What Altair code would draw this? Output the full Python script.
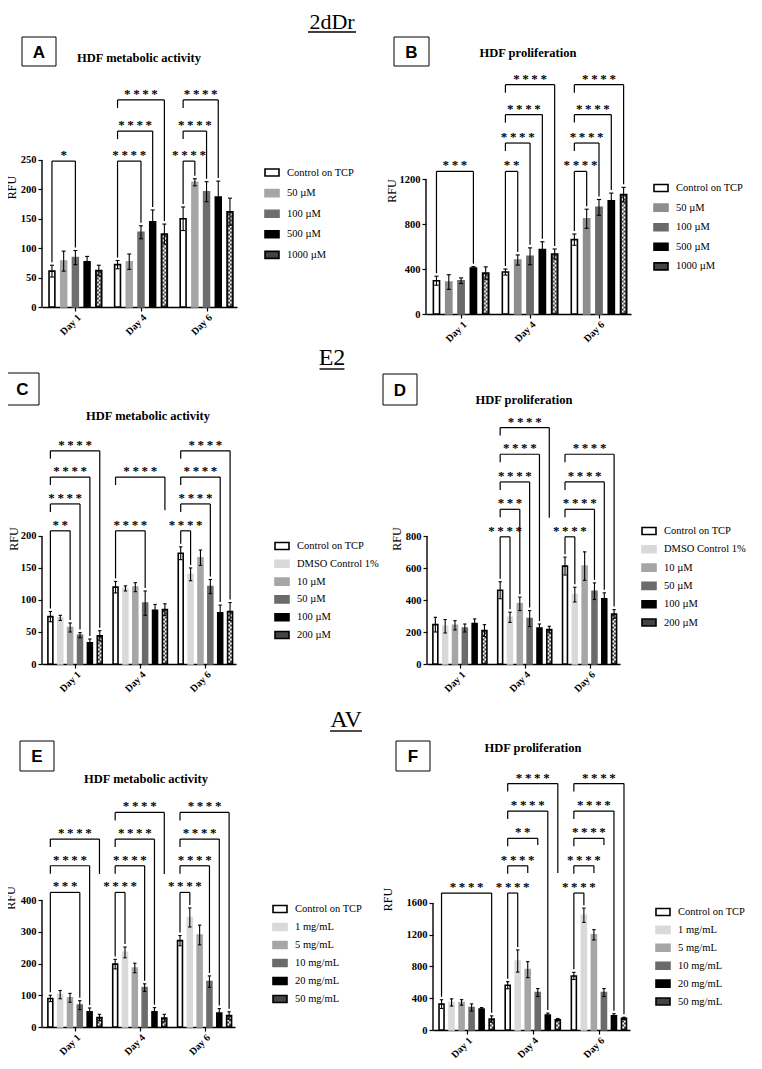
import altair as alt
import pandas as pd

DAYS = ["Day 1", "Day 4", "Day 6"]

# ---------------- Panel A : 2dDr, HDF metabolic activity
A_SERIES = ["Control on TCP", "50 µM", "100 µM", "500 µM", "1000 µM"]
A_MEAN = [[61, 72, 150], [78, 77, 212], [84, 127, 196], [77, 145, 187], [62, 124, 162]]
A_SD = [[10, 7, 20], [17, 13, 6], [12, 11, 17], [9, 20, 27], [9, 17, 23]]
A_LEVELS = [248, 299, 352]
A_BRACKETS = [(0, 2, 0, "*", None), (1, 2, 0, "****", None), (1, 3, 1, "****", None),
              (1, 4, 2, "****", None), (2, 1, 0, "****", None), (2, 2, 1, "****", None),
              (2, 3, 2, "****", None)]
A_YTICKS = [0, 50, 100, 150, 200, 250]

# ---------------- Panel B : 2dDr, HDF proliferation
B_SERIES = A_SERIES
B_MEAN = [[296, 373, 661], [284, 480, 847], [296, 513, 948], [409, 572, 1007], [364, 533, 1061]]
B_SD = [[40, 27, 50], [65, 45, 85], [25, 75, 70], [12, 70, 68], [55, 45, 65]]
B_LEVELS = [1268, 1520, 1773, 2039]
B_BRACKETS = [(0, 3, 0, "***", None), (1, 1, 0, "**", None), (1, 2, 1, "****", None),
              (1, 3, 2, "****", None), (1, 4, 3, "****", None), (2, 1, 0, "****", None),
              (2, 2, 1, "****", None), (2, 3, 2, "****", None), (2, 4, 3, "****", None)]
B_YTICKS = [0, 400, 800, 1200]

# ---------------- Panel C : E2, HDF metabolic activity
C_SERIES = ["Control on TCP", "DMSO Control 1%", "10 µM", "50 µM", "100 µM", "200 µM"]
C_MEAN = [[74, 120, 173], [72, 118, 140], [57, 120, 166], [45, 95, 121], [33, 84, 80], [44, 85, 82]]
C_SD = [[8, 9, 10], [4, 4, 10], [7, 7, 12], [4, 19, 11], [6, 9, 12], [8, 9, 14]]
C_LEVELS = [208, 250, 292, 333]
C_BRACKETS = [(0, 2, 0, "**", None), (0, 3, 1, "****", None), (0, 4, 2, "****", None),
              (0, 5, 3, "****", None), (1, 3, 0, "****", None), (1, 5, 2, "****", 240),
              (2, 1, 0, "****", None), (2, 3, 1, "****", None), (2, 4, 2, "****", None),
              (2, 5, 3, "****", None)]
C_YTICKS = [0, 50, 100, 150, 200]

# ---------------- Panel D : E2, HDF proliferation
D_SERIES = C_SERIES
D_MEAN = [[246, 461, 612], [236, 292, 434], [242, 376, 612], [225, 284, 455], [253, 225, 407], [209, 215, 313]]
D_SD = [[46, 53, 56], [42, 32, 46], [29, 42, 89], [25, 50, 52], [29, 25, 38], [37, 21, 27]]
D_LEVELS = [795, 967, 1138, 1311, 1478]
D_BRACKETS = [(1, 1, 0, "****", None), (1, 2, 1, "***", None), (1, 3, 2, "****", None),
              (1, 4, 3, "****", None), (1, 5, 4, "****", 914), (2, 1, 0, "****", None),
              (2, 3, 1, "****", None), (2, 4, 2, "****", None), (2, 5, 3, "****", None)]
D_YTICKS = [0, 200, 400, 600, 800]

# ---------------- Panel E : AV, HDF metabolic activity
E_SERIES = ["Control on TCP", "1 mg/mL", "5 mg/mL", "10 mg/mL", "20 mg/mL", "50 mg/mL"]
E_MEAN = [[90, 198, 272], [102, 235, 345], [92, 186, 290], [69, 124, 143], [48, 48, 44], [30, 28, 36]]
E_SD = [[10, 15, 16], [13, 17, 30], [14, 15, 31], [14, 12, 18], [12, 13, 14], [10, 12, 12]]
E_LEVELS = [424, 508, 592, 676]
E_BRACKETS = [(0, 3, 0, "***", None), (0, 4, 1, "****", None), (0, 5, 2, "****", 482),
              (1, 1, 0, "****", None), (1, 3, 1, "****", None), (1, 4, 2, "****", None),
              (1, 5, 3, "****", 482), (2, 1, 0, "****", None), (2, 3, 1, "****", None),
              (2, 4, 2, "****", None), (2, 5, 3, "****", None)]
E_YTICKS = [0, 100, 200, 300, 400]

# ---------------- Panel F : AV, HDF proliferation
F_SERIES = E_SERIES
F_MEAN = [[326, 564, 681], [347, 869, 1445], [347, 760, 1199], [284, 472, 472], [263, 188, 180], [138, 130, 146]]
F_SD = [[55, 45, 45], [45, 140, 90], [35, 100, 65], [45, 50, 50], [20, 25, 25], [40, 15, 15]]
F_LEVELS = [1725, 2068, 2414, 2757, 3104]
F_BRACKETS = [(0, 5, 0, "****", None), (1, 1, 0, "****", None), (1, 2, 1, "****", 1976),
              (1, 3, 2, "**", 2331), (1, 4, 3, "****", None), (1, 5, 4, "****", 1976),
              (2, 1, 0, "****", None), (2, 2, 1, "****", 1976), (2, 3, 2, "****", 2331),
              (2, 4, 3, "****", None), (2, 5, 4, "****", None)]
F_YTICKS = [0, 400, 800, 1200, 1600]

SECTIONS = ["2dDr", "E2", "AV"]
TITLE_MET = "HDF metabolic activity"
TITLE_PRO = "HDF proliferation"

FILL5A = ["white", "#a6a6a6", "#6e6e6e", "black", "#444444"]
FILL5B = ["white", "#8e8e8e", "#6a6a6a", "black", "#444444"]
FILL6 = ["white", "#d9d9d9", "#a6a6a6", "#6b6b6b", "black", "#444444"]

SERIF = "Liberation Serif"
SANS = "Liberation Sans"
THIN = "\u2009"
HALF = 0.25
CAP = 0.17
GAP_PX = 3
SHORT_PX = 8


def build_panel(letter, title, series, mean, sd, levels, brackets, yticks, fills, g):
    n = len(series)
    stride = n + 0.6
    ppu, dmax, step = g["ppu"], g["dmax"], g["step"]
    xmin, xmax = -0.85, 2 * stride + (n - 1) + 0.6
    width = round((xmax - xmin) * step)
    height = round(dmax * ppu)
    px = 1.0 / ppu
    strokes = [("black" if c in ("white", "#444444") else c) for c in fills]

    rows = []
    for gi, s in enumerate(series):
        for d, day in enumerate(DAYS):
            p = d * stride + gi
            m, e = mean[gi][d], sd[gi][d]
            rows.append({"series": s, "day": day, "pos": p, "left": p - HALF, "right": p + HALF,
                         "mean": m, "zero": 0, "lo": m - e, "hi": m + e,
                         "capl": p - CAP, "capr": p + CAP,
                         "b0": 1.6 * px, "b1": m - 1.6 * px})
    df = pd.DataFrame(rows)

    lowest = {}
    for d, t, k, stars, end in brackets:
        lowest[d] = min(lowest.get(d, 99), k)
    hl, legs, txt = [], [], []
    for d, t, k, stars, end in brackets:
        xc, xt, yl = d * stride, d * stride + t, levels[k]
        hl.append({"x": xc, "x2": xt, "y": yl})
        lb = mean[0][d] + sd[0][d] + GAP_PX * px if k == lowest[d] else yl - SHORT_PX * px
        rb = end if end is not None else mean[t][d] + sd[t][d] + GAP_PX * px
        legs.append({"x": xc, "y": lb, "y2": yl})
        legs.append({"x": xt, "y": rb, "y2": yl})
        txt.append({"x": (xc + xt) / 2, "y": yl, "t": THIN.join(stars)})
    hl, legs, txt = pd.DataFrame(hl), pd.DataFrame(legs), pd.DataFrame(txt)

    xs = alt.Scale(domain=[xmin, xmax], nice=False, zero=False)
    ys = alt.Scale(domain=[0, dmax], nice=False, zero=True)
    centers = [d * stride + (n - 1) / 2 for d in range(3)]
    expr = (f"datum.value < {centers[0] + 1} ? '{DAYS[0]}' : "
            f"(datum.value < {centers[1] + 1} ? '{DAYS[1]}' : '{DAYS[2]}')")
    xaxis = alt.Axis(values=centers, labelExpr=expr, title=None, labelAngle=-45,
                     labelFont=SERIF, labelFontWeight="bold", labelFontSize=10,
                     labelColor="black", tickSize=4, tickWidth=1.2, tickColor="black",
                     domainWidth=1.4, domainColor="black", grid=False, labelPadding=1)
    yaxis = alt.Axis(values=yticks, format="d", title="RFU", domain=False, grid=False,
                     tickSize=4, tickWidth=1.2, tickColor="black", labelFont=SERIF,
                     labelFontWeight="bold", labelFontSize=10.5, labelColor="black",
                     labelPadding=2, labelOverlap=False, titleFont=SERIF,
                     titleFontWeight="normal", titleFontSize=12, titleColor="black",
                     titlePadding=g["tp"])
    leg = alt.Legend(title=None, orient="none", legendX=g["legx"], legendY=g["legy"],
                     symbolType="M-1,-0.5H1V0.5H-1Z", symbolSize=196, symbolStrokeWidth=1.6,
                     labelFont=SERIF, labelFontSize=10.5, labelColor="black", labelOffset=7,
                     rowPadding=g["rowpad"], padding=0)

    def X(f):
        return alt.X(f, scale=xs, axis=xaxis)

    def Y(f):
        return alt.Y(f, scale=ys, axis=yaxis)

    bars = alt.Chart(df).mark_bar(strokeWidth=1.6).encode(
        x=X("left:Q"), x2="right:Q", y=Y("mean:Q"), y2="zero:Q",
        fill=alt.Fill("series:N", scale=alt.Scale(domain=series, range=fills), legend=leg),
        stroke=alt.Stroke("series:N", scale=alt.Scale(domain=series, range=strokes), legend=leg),
    )
    pat = df[df["series"] == series[-1]]
    chk1 = alt.Chart(pat).mark_rule(color="white", strokeWidth=1.6, strokeDash=[2, 2],
                                    xOffset=-0.8).encode(x=X("pos:Q"), y=Y("b0:Q"), y2="b1:Q")
    chk2 = alt.Chart(pat).mark_rule(color="white", strokeWidth=1.6, strokeDash=[2, 2],
                                    strokeDashOffset=2, xOffset=0.8).encode(
        x=X("pos:Q"), y=Y("b0:Q"), y2="b1:Q")
    stem = alt.Chart(df).mark_rule(color="black", strokeWidth=1.1).encode(
        x=X("pos:Q"), y=Y("lo:Q"), y2="hi:Q")
    cap_hi = alt.Chart(df).mark_rule(color="black", strokeWidth=1.1).encode(
        x=X("capl:Q"), x2="capr:Q", y=Y("hi:Q"))
    cap_lo = alt.Chart(df).mark_rule(color="black", strokeWidth=1.1).encode(
        x=X("capl:Q"), x2="capr:Q", y=Y("lo:Q"))
    yline = alt.Chart(pd.DataFrame({"x": [xmin], "y": [0], "y2": [yticks[-1]]})).mark_rule(
        color="black", strokeWidth=1.4).encode(x=X("x:Q"), y=Y("y:Q"), y2="y2:Q")
    hrule = alt.Chart(hl).mark_rule(color="black", strokeWidth=1.2).encode(
        x=X("x:Q"), x2="x2:Q", y=Y("y:Q"))
    vrule = alt.Chart(legs).mark_rule(color="black", strokeWidth=1.2).encode(
        x=X("x:Q"), y=Y("y:Q"), y2="y2:Q")
    stars = alt.Chart(txt).mark_text(font=SERIF, fontWeight="bold", fontSize=13,
                                     baseline="alphabetic", align="center", dy=-2,
                                     color="black").encode(x=X("x:Q"), y=Y("y:Q"), text="t:N")

    one = pd.DataFrame({"k": [0]})
    bx0, bx1, by0, by1 = g["box"]
    box = alt.Chart(one).mark_rect(fillOpacity=0, stroke="black", strokeWidth=1).encode(
        x=alt.value(bx0), x2=alt.value(bx1), y=alt.value(by0), y2=alt.value(by1))
    let = alt.Chart(one).mark_text(font=SANS, fontWeight="bold", fontSize=17, align="center",
                                   baseline="middle", color="black").encode(
        x=alt.value((bx0 + bx1) / 2), y=alt.value((by0 + by1) / 2 + 1), text=alt.value(letter))
    ttl = alt.Chart(one).mark_text(font=SERIF, fontWeight="bold", fontSize=12.5, align="center",
                                   baseline="middle", color="black").encode(
        x=alt.value(g["title"][0]), y=alt.value(g["title"][1]), text=alt.value(title))

    return alt.layer(bars, chk1, chk2, stem, cap_hi, cap_lo, yline, hrule, vrule, stars,
                     box, let, ttl).properties(width=width, height=height)


def header(text, size, cx, base_y, uw, under_y, h):
    one = pd.DataFrame({"k": [0]})
    t = alt.Chart(one).mark_text(font=SERIF, fontSize=size, align="center",
                                 baseline="alphabetic", color="black").encode(
        x=alt.value(cx), y=alt.value(base_y), text=alt.value(text))
    u = alt.Chart(one).mark_rule(color="black", strokeWidth=1.4).encode(
        x=alt.value(cx - uw / 2), x2=alt.value(cx + uw / 2), y=alt.value(under_y))
    return alt.layer(t, u).properties(width=660, height=h)


GA = dict(ppu=0.588, dmax=408, step=11.7, box=(-20, 14, -30, -1), title=(97, -9),
          legx=222, legy=97.5, rowpad=5.6, tp=2)
GB = dict(ppu=0.1125, dmax=2196, step=12.3, box=(-32, 3, -30, -1), title=(102, -14),
          legx=227, legy=113, rowpad=4.6, tp=1)
GC = dict(ppu=0.64, dmax=392, step=9.87, box=(-36, -3, -40, -8), title=(106, 3),
          legx=232, legy=125, rowpad=2.8, tp=0)
GD = dict(ppu=0.16, dmax=1569, step=9.8, box=(-44, -10, -39, -8), title=(97, -13),
          legx=214, legy=110, rowpad=3.3, tp=2)
GE = dict(ppu=0.3175, dmax=816, step=9.8, box=(-22, 12, -27, 3), title=(104, 11),
          legx=230, legy=133, rowpad=3, tp=3)
GF = dict(ppu=0.0794, dmax=3300, step=10.0, box=(-37, -3, -27, 3), title=(100, -20),
          legx=222, legy=136, rowpad=2.9, tp=12)

pA = build_panel("A", TITLE_MET, A_SERIES, A_MEAN, A_SD, A_LEVELS, A_BRACKETS, A_YTICKS, FILL5A, GA)
pB = build_panel("B", TITLE_PRO, B_SERIES, B_MEAN, B_SD, B_LEVELS, B_BRACKETS, B_YTICKS, FILL5B, GB)
pC = build_panel("C", TITLE_MET, C_SERIES, C_MEAN, C_SD, C_LEVELS, C_BRACKETS, C_YTICKS, FILL6, GC)
pD = build_panel("D", TITLE_PRO, D_SERIES, D_MEAN, D_SD, D_LEVELS, D_BRACKETS, D_YTICKS, FILL6, GD)
pE = build_panel("E", TITLE_MET, E_SERIES, E_MEAN, E_SD, E_LEVELS, E_BRACKETS, E_YTICKS, FILL6, GE)
pF = build_panel("F", TITLE_PRO, F_SERIES, F_MEAN, F_SD, F_LEVELS, F_BRACKETS, F_YTICKS, FILL6, GF)

h1 = header(SECTIONS[0], 22, 290, 21, 48, 24, 28)
h2 = header(SECTIONS[1], 24, 290, 21, 25, 25, 28)
h3 = header(SECTIONS[2], 24, 304, 33, 32, 37, 46)


def indep(c):
    return c.resolve_scale(fill="independent", stroke="independent", x="independent",
                           y="independent").resolve_legend(fill="independent",
                                                           stroke="independent")


row1 = indep(alt.hconcat(pA, pB, spacing=30))
row2 = indep(alt.hconcat(pC, pD, spacing=3))
row3 = indep(alt.hconcat(pE, pF, spacing=18))

chart = indep(alt.concat(h1, row1, h2, row2, h3, row3, columns=1, spacing=0, align="none")).properties(
    autosize=alt.AutoSizeParams(type="none"),
    padding={"left": 34, "top": 0, "right": 712, "bottom": 1050},
).configure(background="white").configure_view(stroke="transparent", strokeWidth=0)

chart.save("out.html", embed_options={"renderer": "svg", "actions": False})
